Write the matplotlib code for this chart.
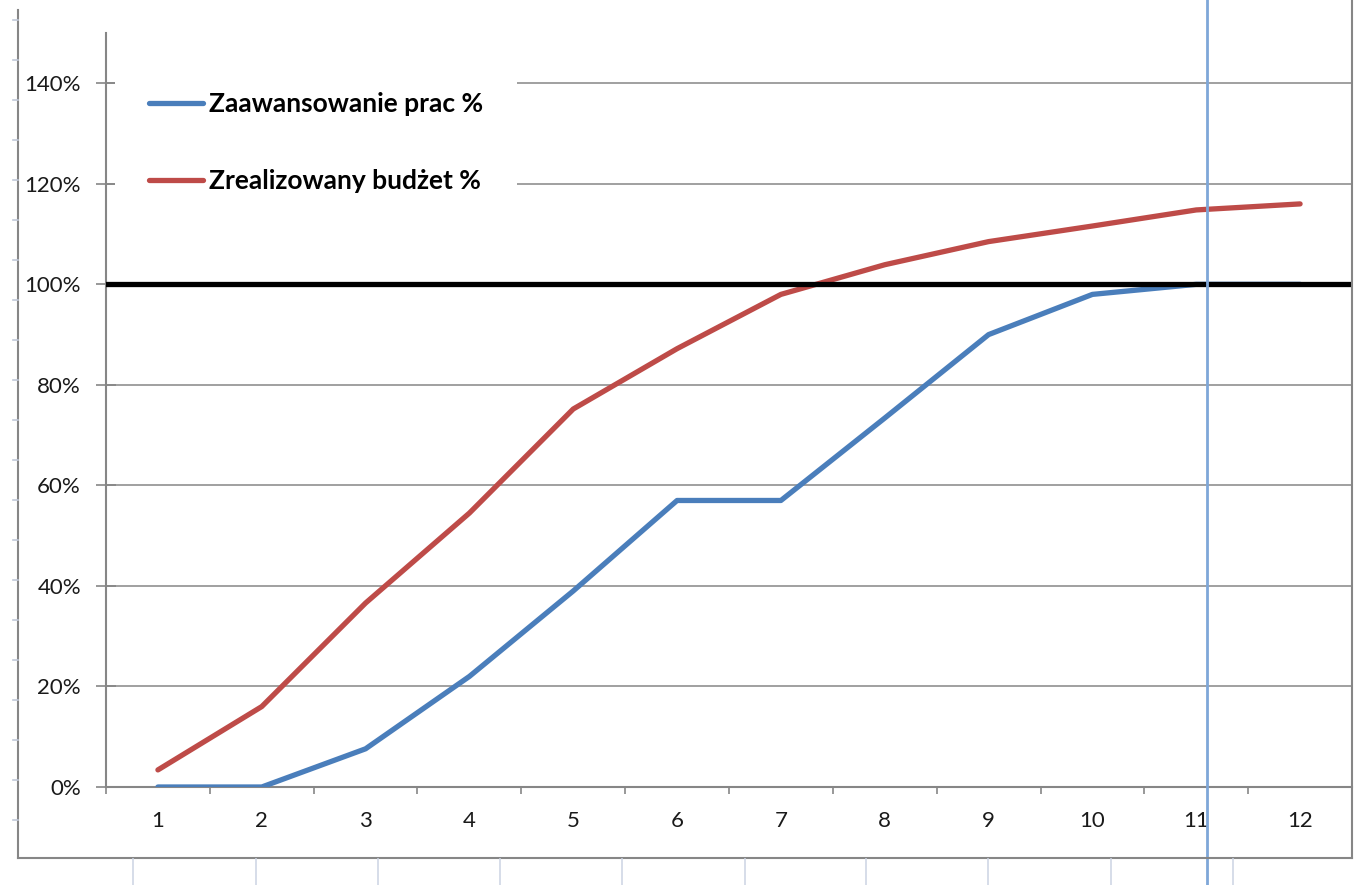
import matplotlib
matplotlib.use("Agg")
import matplotlib.pyplot as plt
from matplotlib.lines import Line2D
from matplotlib.ticker import FixedLocator, FuncFormatter

# dane
miesiace = list(range(1, 13))
zaawansowanie = [0.0, 0.0, 0.076, 0.22, 0.39, 0.57, 0.57, 0.734, 0.90, 0.98, 1.0, 1.0]
budzet = [0.034, 0.16, 0.366, 0.545, 0.752, 0.872, 0.98, 1.039, 1.085, 1.116, 1.148, 1.16]
etykiety = ["Zaawansowanie prac %", "Zrealizowany budżet %"]
cel = 1.0
znacznik = 11.1

plt.rcParams['font.family'] = ['Lato', 'DejaVu Sans']

W, H = 1355, 885
fig = plt.figure(figsize=(W / 100, H / 100), dpi=100)
ax = fig.add_axes([106 / W, 1 - 787 / H, (1352 - 106) / W, (787 - 33) / H])

szary = '#868686'

# siatka pozioma
for v in [0.2, 0.4, 0.6, 0.8, 1.2, 1.4]:
    ax.axhline(v, color=szary, lw=1.1, zorder=1)

l1, = ax.plot(miesiace, zaawansowanie, color='#4a7ebb', lw=3.8, solid_capstyle='round', zorder=3)
l2, = ax.plot(miesiace, budzet, color='#be4b48', lw=3.8, solid_capstyle='round', zorder=3)
ax.axhline(cel, color='black', lw=3.8, zorder=4)

ax.set_xlim(0.5, 12.5)
ax.set_ylim(0, 1.5)

for s in ['top', 'right']:
    ax.spines[s].set_visible(False)
for s in ['left', 'bottom']:
    ax.spines[s].set_color(szary)
    ax.spines[s].set_linewidth(1.5)

ax.yaxis.set_major_locator(FixedLocator([0, 0.2, 0.4, 0.6, 0.8, 1.0, 1.2, 1.4]))
ax.yaxis.set_major_formatter(FuncFormatter(lambda v, p: f"{v * 100:.0f}%"))
ax.tick_params(axis='y', direction='inout', length=14, width=1.2, color=szary,
               labelsize=16, labelcolor='#1a1a1a', pad=11)

ax.set_xticks(miesiace)
ax.set_xticks([m + 0.5 for m in range(0, 12)], minor=True)
ax.tick_params(axis='x', which='major', length=0, labelsize=16, labelcolor='#1a1a1a', pad=17)
ax.tick_params(axis='x', which='minor', direction='out', length=5, width=1.2, color=szary)

leg = ax.legend([l1, l2], etykiety, loc='upper left', bbox_to_anchor=(115 / W, 1 - 58 / H),
                bbox_transform=fig.transFigure, frameon=True, facecolor='white', edgecolor='none',
                framealpha=1, fancybox=False, handlelength=2.05, handletextpad=0.2,
                labelspacing=2.0, borderpad=1.3, borderaxespad=0,
                prop={'size': 19, 'weight': 'bold'})
leg.set_zorder(5)

# pionowa linia znacznika
ax.axvline(znacznik, ymin=-(H - 787) / 754, ymax=787 / 754, color='#7fa7d8', lw=2,
           clip_on=False, zorder=6)

# ramka wykresu i siatka arkusza
fig.add_artist(Line2D([18 / W, 18 / W], [1 - 10 / H, 1 - 858 / H], color=szary, lw=1.5))
fig.add_artist(Line2D([18 / W, 1352 / W], [1 - 858 / H, 1 - 858 / H], color=szary, lw=1.5))
fig.add_artist(Line2D([1352 / W, 1352 / W], [1, 1 - 858 / H], color=szary, lw=1.5))
for x in [133, 256, 378, 500, 622, 745, 866, 988, 1111, 1233]:
    fig.add_artist(Line2D([x / W, x / W], [0, 1 - 859 / H], color='#d0d7e5', lw=1.2))
for y in range(20, 858, 40):
    fig.add_artist(Line2D([13 / W, 18 / W], [1 - y / H, 1 - y / H], color='#c0c8d8', lw=1.2))

fig.savefig('out.png', dpi=100, facecolor='white')
